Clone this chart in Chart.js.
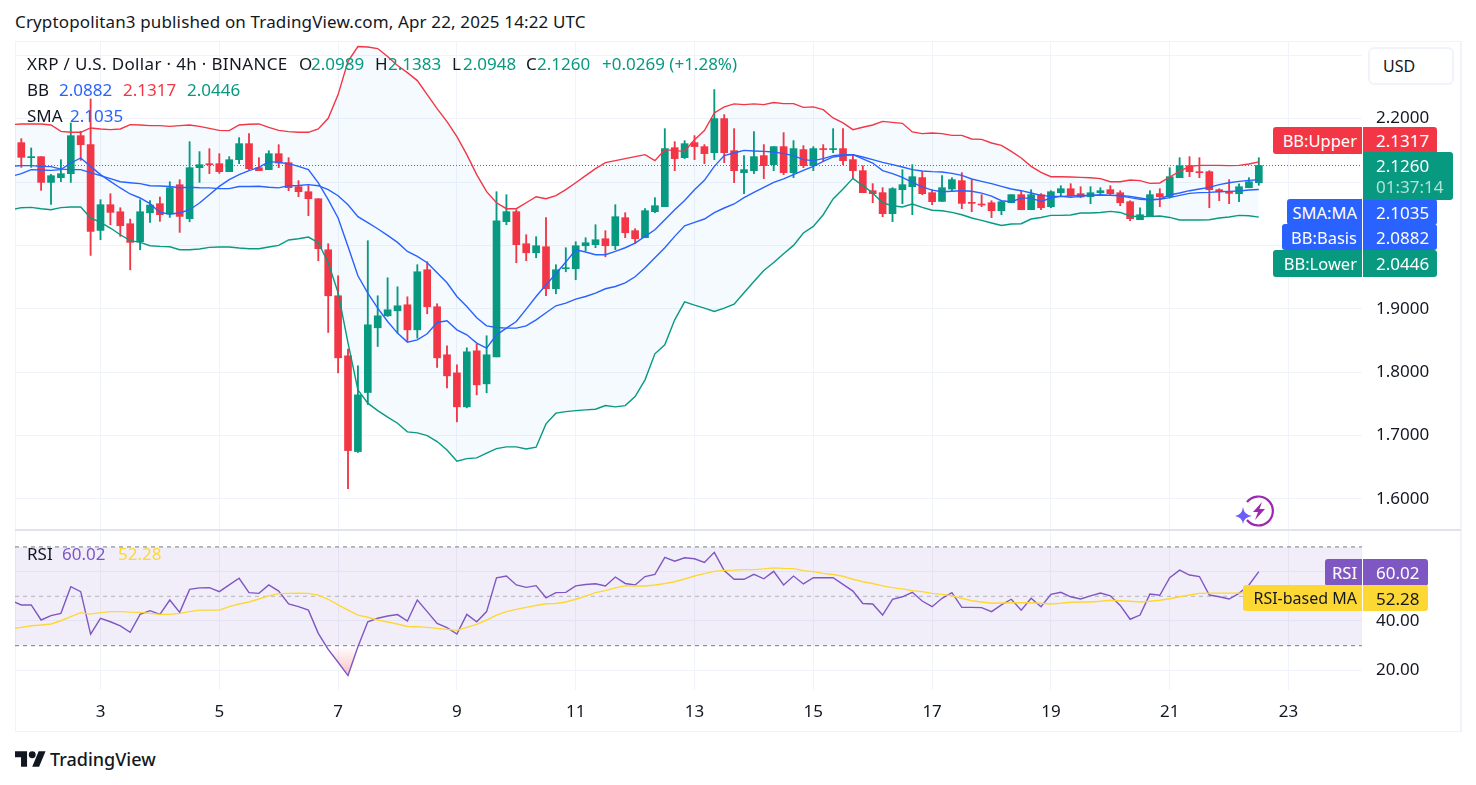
<!DOCTYPE html>
<html>
<head>
<meta charset="utf-8">
<title>XRP / U.S. Dollar</title>
<script src="https://cdn.jsdelivr.net/npm/chart.js@4"></script>
<style>
  html, body { margin: 0; padding: 0; background: #fff; }
  body { width: 1476px; height: 785px; position: relative; overflow: hidden; font-family: "Noto Sans", sans-serif; color: #131722; }
  canvas { position: absolute; }
  .frame { position: absolute; left: 15px; top: 41px; width: 1444px; height: 689px; border: 2px solid #f0f3fa; border-width: 1px 2px 1px 1px; }
  .sep { position: absolute; left: 15px; top: 529px; width: 1446px; height: 2px; background: #e0e3eb; }
  .t { position: absolute; white-space: nowrap; font-size: 17px; line-height: 20px; z-index: 3; }
  .tag { position: absolute; z-index: 4; color: #fff; font-size: 17px; white-space: nowrap; display: flex; align-items: center; box-sizing: border-box; }
  .name { justify-content: flex-end; padding-right: 5px; border-radius: 3px 0 0 3px; font-size: 16.5px; }
  .val { justify-content: flex-start; padding-left: 13px; border-radius: 0 3px 3px 0; }
  .red { background: #f23645; }
  .blue { background: #2962ff; }
  .green { background: #089981; }
  .purple { background: #7e57c2; }
  .yellow { background: #fdd835; color: #131722; }
  .cg { color: #089981; } .cb { color: #2962ff; } .cr { color: #f23645; } .cp { color: #7e57c2; } .cy { color: #fdd835; }
</style>
</head>
<body>
<div class="t" style="left:15px;top:12px;letter-spacing:.14px">Cryptopolitan3 published on TradingView.com, Apr 22, 2025 14:22 UTC</div>

<div class="frame"></div>
<canvas id="priceChart" width="1446" height="489" style="left:15px;top:41px"></canvas>
<canvas id="rsiChart" width="1446" height="200" style="left:15px;top:531px"></canvas>
<div class="sep"></div>

<div class="t" style="left:27px;top:54px;letter-spacing:.34px">XRP / U.S. Dollar · 4h · BINANCE</div>
<div class="t" style="left:299px;top:54px">O</div><div class="t cg" style="left:311px;top:54px">2.0989</div>
<div class="t" style="left:375px;top:54px">H</div><div class="t cg" style="left:388px;top:54px">2.1383</div>
<div class="t" style="left:452px;top:54px">L</div><div class="t cg" style="left:463px;top:54px">2.0948</div>
<div class="t" style="left:526px;top:54px">C</div><div class="t cg" style="left:537px;top:54px">2.1260</div>
<div class="t cg" style="left:602px;top:54px">+0.0269 (+1.28%)</div>

<div class="t" style="left:27px;top:80px">BB</div>
<div class="t cb" style="left:59px;top:80px">2.0882</div>
<div class="t cr" style="left:123px;top:80px">2.1317</div>
<div class="t cg" style="left:187px;top:80px">2.0446</div>

<div class="t" style="left:27px;top:106px">SMA</div>
<div class="t cb" style="left:70px;top:106px">2.1035</div>

<div class="t" style="left:27px;top:544px">RSI</div>
<div class="t cp" style="left:62px;top:544px">60.02</div>
<div class="t cy" style="left:118px;top:544px">52.28</div>

<div style="position:absolute;z-index:4;left:1368px;top:47px;width:86px;height:38px;box-sizing:border-box;border:2px solid #f0f3fa;border-radius:6px;background:#fff;font-size:16px;line-height:34px;padding-left:13px">USD</div>

<div class="tag name red" style="left:1273px;top:127px;width:89px;height:27px">BB:Upper</div>
<div class="tag val red" style="left:1363px;top:127px;width:74px;height:27px">2.1317</div>
<div class="tag name blue" style="left:1287px;top:199px;width:75px;height:26px">SMA:MA</div>
<div class="tag val blue" style="left:1363px;top:199px;width:74px;height:26px">2.1035</div>
<div class="tag name blue" style="left:1282px;top:224px;width:80px;height:26px">BB:Basis</div>
<div class="tag val blue" style="left:1363px;top:224px;width:74px;height:26px">2.0882</div>
<div class="tag name green" style="left:1273px;top:250px;width:89px;height:27px">BB:Lower</div>
<div class="tag val green" style="left:1363px;top:250px;width:74px;height:27px">2.0446</div>
<div class="tag green" style="left:1363px;top:152px;width:90px;height:48px;border-radius:0 3px 3px 0;display:block;padding:3px 0 0 13px;line-height:21px">2.1260<br><span style="color:rgba(255,255,255,.7)">01:37:14</span></div>

<div class="tag name purple" style="left:1325px;top:559px;width:37px;height:27px">RSI</div>
<div class="tag val purple" style="left:1363px;top:559px;width:65px;height:27px">60.02</div>
<div class="tag name yellow" style="left:1243px;top:585px;width:119px;height:26px;font-size:16px">RSI-based MA</div>
<div class="tag val yellow" style="left:1363px;top:585px;width:65px;height:26px">52.28</div>

<svg style="position:absolute;left:1234px;top:494px;z-index:3" width="42" height="34" viewBox="0 0 42 34">
  <path d="M13 8 A14.5 14.5 0 1 1 13 26" fill="none" stroke="#9c27b0" stroke-width="2.2"/>
  <path d="M28 8 L19 18 L24 18 L21 26 L31 15 L25.5 15 Z" fill="#9c27b0"/>
  <path d="M9 13 Q10 21 18 22 Q10 23 9 30 Q8 23 1 22 Q8 21 9 13 Z" fill="#6a5cff"/>
</svg>

<svg style="position:absolute;left:15px;top:750px" width="31" height="18" viewBox="0 4 36 18">
  <path d="M14 22H7V11H0V4h14v18zM28 22h-8l7.5-18h8L28 22z" fill="#131722"/>
  <circle cx="20" cy="8" r="4" fill="#131722"/>
</svg>
<div class="t" style="left:50px;top:749px;font-size:18px;font-weight:500">TradingView</div>

<script>
// April 2025, 4h candles, first one on Apr 1 16:00
const opens = [2.1621,2.1384,2.1400,2.0994,2.1068,2.1131,2.1731,2.1589,2.0236,2.0642,2.0531,2.0342,2.0057,2.0515,2.0658,2.0494,2.0957,2.0421,2.1226,2.1289,2.1289,2.1163,2.1352,2.1605,2.1226,2.1195,2.1447,2.1305,2.0926,2.0847,2.0736,1.9931,1.9205,1.8258,1.6747,1.7679,1.8700,1.8889,1.8968,1.9063,1.8668,1.9616,1.9032,1.8274,1.7989,1.7453,1.8337,1.7816,1.8242,2.0374,2.0532,2.0026,1.9884,1.9979,1.9316,1.9632,1.9632,1.9995,2.0011,2.0105,1.9995,2.0437,2.0232,2.0121,2.0532,2.0611,2.1542,2.1384,2.1621,2.1558,2.1463,2.2000,2.1495,2.1148,2.1179,2.1416,2.1274,2.1558,2.1148,2.1511,2.1258,2.1527,2.1511,2.1527,2.1353,2.1179,2.0863,2.0832,2.0500,2.0879,2.0926,2.1069,2.0832,2.0694,2.0889,2.1021,2.0673,2.0652,2.0673,2.0547,2.0673,2.0800,2.0563,2.0800,2.0610,2.0831,2.0894,2.0816,2.0768,2.0831,2.0879,2.0831,2.0689,2.0405,2.0452,2.0816,2.0768,2.1068,2.1258,2.1163,2.1163,2.0879,2.0847,2.0815,2.0910,2.0989];
const closes = [2.1389,2.1400,2.0994,2.1100,2.1131,2.1731,2.1589,2.0221,2.0642,2.0521,2.0310,2.0047,2.0531,2.0636,2.0484,2.0910,2.0457,2.1226,2.1273,2.1273,2.1163,2.1352,2.1605,2.1210,2.1179,2.1447,2.1300,2.0910,2.0847,2.0736,1.9947,1.9205,1.8226,1.6763,1.7642,1.8747,1.8889,1.8984,1.9047,1.8668,1.9584,1.9032,1.8226,1.7942,1.7453,1.8321,1.7800,1.8274,2.0389,2.0532,2.0011,1.9884,1.9995,1.9316,1.9616,1.9647,1.9995,2.0042,2.0089,1.9995,2.0453,2.0200,2.0105,2.0548,2.0626,2.1527,2.1369,2.1605,2.1558,2.1448,2.2000,2.1463,2.1179,2.1195,2.1400,2.1258,2.1558,2.1148,2.1527,2.1258,2.1527,2.1511,2.1527,2.1337,2.1179,2.0832,2.0816,2.0500,2.0895,2.0958,2.1084,2.0816,2.0690,2.0910,2.1037,2.0663,2.0663,2.0637,2.0547,2.0689,2.0800,2.0563,2.0800,2.0594,2.0847,2.0894,2.0784,2.0763,2.0831,2.0863,2.0816,2.0673,2.0421,2.0484,2.0800,2.0768,2.1084,2.1258,2.1163,2.1147,2.0879,2.0847,2.0821,2.0926,2.1005,2.1260];
const highs = [2.1684,2.1537,2.1400,2.1121,2.1352,2.1931,2.1800,2.2310,2.0721,2.0815,2.0594,2.0415,2.0721,2.0705,2.0763,2.1005,2.1036,2.1636,2.1479,2.1526,2.1447,2.1400,2.1700,2.1763,2.1384,2.1494,2.1589,2.1384,2.1021,2.0942,2.0736,2.0026,1.9521,1.8363,1.8100,2.0074,1.9205,1.9489,1.9347,1.9189,1.9695,1.9742,1.9079,1.8416,1.8116,1.8384,1.8447,1.8574,2.0847,2.0800,2.0563,2.0168,2.0137,2.0437,1.9695,1.9963,2.0058,2.0121,2.0326,2.0232,2.0642,2.0516,2.0263,2.0579,2.0753,2.1842,2.1637,2.1653,2.1732,2.1590,2.2458,2.2063,2.1842,2.1416,2.1795,2.1590,2.1558,2.1779,2.1653,2.1574,2.1558,2.1590,2.1842,2.1842,2.1432,2.1258,2.0974,2.0911,2.0911,2.1195,2.1274,2.1163,2.0879,2.1100,2.1068,2.1147,2.1037,2.0800,2.0705,2.0700,2.0800,2.0863,2.0879,2.0816,2.0863,2.0942,2.0973,2.0926,2.0926,2.0910,2.0942,2.0863,2.0705,2.0594,2.0863,2.0894,2.1226,2.1384,2.1400,2.1384,2.1179,2.0894,2.1037,2.0973,2.1068,2.1383];
const lows = [2.1231,2.1231,2.0868,2.0647,2.1005,2.0994,2.1342,1.9842,2.0089,2.0326,2.0142,1.9615,1.9931,2.0363,2.0379,2.0442,2.0205,2.0373,2.0994,2.1131,2.1136,2.1163,2.1289,2.1195,2.1179,2.1195,2.1226,2.0863,2.0768,2.0468,1.9757,1.8626,1.7989,1.6163,1.6732,1.7489,1.8405,1.8879,1.8616,1.8495,1.8537,1.8921,1.8074,1.7753,1.7216,1.7437,1.7642,1.7674,1.8242,2.0326,1.9726,1.9758,1.9805,1.9205,1.9237,1.9584,1.9458,1.9916,1.9963,1.9821,1.9932,2.0121,2.0026,2.0121,2.0516,2.0611,2.1179,2.1369,2.1353,2.1290,2.1353,2.1305,2.0990,2.0816,2.1132,2.1053,2.1179,2.1116,2.1069,2.1227,2.1179,2.1337,2.1463,2.1274,2.1058,2.0832,2.0674,2.0453,2.0374,2.0658,2.0484,2.0800,2.0642,2.0694,2.0863,2.0579,2.0531,2.0610,2.0437,2.0484,2.0673,2.0563,2.0563,2.0563,2.0594,2.0784,2.0784,2.0752,2.0658,2.0816,2.0800,2.0626,2.0389,2.0405,2.0452,2.0610,2.0747,2.1068,2.1084,2.1068,2.0594,2.0705,2.0658,2.0689,2.0910,2.0948];

// indicator lines start one bar earlier, just left of the pane
const bbUpper = [2.1905,2.1916,2.1916,2.1916,2.1900,2.1799,2.1784,2.1784,2.1853,2.1837,2.1826,2.1837,2.1905,2.1900,2.1889,2.1889,2.1878,2.1889,2.1900,2.1878,2.1847,2.1815,2.1810,2.1900,2.1910,2.1916,2.1863,2.1815,2.1795,2.1784,2.1784,2.1837,2.2005,2.2379,2.2905,2.3137,2.3129,2.3105,2.2979,2.2837,2.2726,2.2600,2.2379,2.2158,2.1953,2.1716,2.1432,2.1116,2.0847,2.0673,2.0579,2.0579,2.0673,2.0768,2.0737,2.0784,2.0879,2.0989,2.1100,2.1210,2.1305,2.1337,2.1368,2.1400,2.1431,2.1337,2.1510,2.1495,2.1484,2.1668,2.1811,2.2090,2.2185,2.2232,2.2221,2.2232,2.2221,2.2253,2.2237,2.2237,2.2178,2.2185,2.2142,2.2011,2.1932,2.1826,2.1863,2.1900,2.1957,2.1941,2.1926,2.1790,2.1763,2.1774,2.1763,2.1736,2.1736,2.1679,2.1673,2.1616,2.1578,2.1484,2.1379,2.1247,2.1152,2.1084,2.1084,2.1079,2.1073,2.1068,2.1053,2.1005,2.1005,2.1032,2.1021,2.0978,2.0985,2.1079,2.1168,2.1247,2.1263,2.1263,2.1263,2.1258,2.1263,2.1285,2.1317];
const bbBasis = [2.1250,2.1258,2.1258,2.1247,2.1242,2.1203,2.1195,2.1195,2.1147,2.1100,2.1053,2.1005,2.0989,2.0974,2.0942,2.0937,2.0929,2.0910,2.0917,2.0910,2.0907,2.0895,2.0895,2.0929,2.0929,2.0933,2.0918,2.0907,2.0942,2.0945,2.0958,2.0942,2.0879,2.0784,2.0642,2.0453,2.0358,2.0263,2.0157,2.0047,1.9905,1.9826,1.9726,1.9568,1.9410,1.9194,1.9036,1.8858,1.8731,1.8705,1.8695,1.8695,1.8731,1.8826,1.8937,1.9047,1.9090,1.9153,1.9194,1.9248,1.9316,1.9352,1.9410,1.9505,1.9647,1.9805,1.9963,2.0142,2.0310,2.0362,2.0416,2.0516,2.0590,2.0653,2.0753,2.0836,2.0915,2.0994,2.1048,2.1116,2.1184,2.1247,2.1326,2.1395,2.1416,2.1431,2.1395,2.1353,2.1310,2.1274,2.1237,2.1195,2.1174,2.1163,2.1158,2.1136,2.1105,2.1048,2.1010,2.0974,2.0931,2.0890,2.0863,2.0827,2.0789,2.0773,2.0773,2.0779,2.0789,2.0789,2.0789,2.0789,2.0784,2.0753,2.0726,2.0721,2.0726,2.0753,2.0789,2.0820,2.0832,2.0836,2.0847,2.0852,2.0858,2.0874,2.0882];
const bbLower = [2.0563,2.0595,2.0599,2.0579,2.0563,2.0595,2.0606,2.0606,2.0432,2.0362,2.0274,2.0168,2.0074,2.0047,1.9995,1.9984,1.9979,1.9932,1.9932,1.9943,1.9968,1.9974,1.9974,1.9958,1.9947,1.9947,1.9974,2.0000,2.0085,2.0105,2.0132,2.0042,1.9726,1.9253,1.8463,1.7721,1.7511,1.7394,1.7290,1.7195,1.7058,1.7042,1.7000,1.6905,1.6773,1.6595,1.6636,1.6647,1.6721,1.6794,1.6821,1.6821,1.6789,1.6816,1.7184,1.7353,1.7378,1.7394,1.7405,1.7416,1.7473,1.7452,1.7473,1.7615,1.7879,1.8289,1.8431,1.8826,1.9110,1.9058,1.9011,1.8957,1.9011,1.9074,1.9252,1.9431,1.9605,1.9731,1.9868,2.0000,2.0195,2.0299,2.0484,2.0732,2.0890,2.1057,2.0942,2.0827,2.0669,2.0626,2.0606,2.0653,2.0599,2.0555,2.0547,2.0520,2.0484,2.0432,2.0394,2.0353,2.0315,2.0337,2.0342,2.0416,2.0441,2.0473,2.0473,2.0479,2.0511,2.0511,2.0520,2.0536,2.0520,2.0464,2.0453,2.0457,2.0464,2.0441,2.0400,2.0400,2.0400,2.0405,2.0432,2.0448,2.0473,2.0468,2.0446];
const smaValues = [2.1089,2.1132,2.1195,2.1190,2.1184,2.1195,2.1300,2.1379,2.1247,2.1116,2.1010,2.0906,2.0811,2.0748,2.0658,2.0520,2.0495,2.0511,2.0563,2.0669,2.0800,2.0931,2.1037,2.1116,2.1179,2.1231,2.1321,2.1310,2.1289,2.1247,2.1195,2.0985,2.0721,2.0432,1.9984,1.9521,1.9248,1.9011,1.8799,1.8616,1.8474,1.8510,1.8605,1.8784,1.8810,1.8668,1.8589,1.8458,1.8379,1.8589,1.8695,1.8799,1.8995,1.9194,1.9379,1.9552,1.9737,1.9932,1.9895,1.9853,1.9853,1.9905,1.9963,2.0037,2.0141,2.0247,2.0405,2.0563,2.0710,2.0879,2.1026,2.1247,2.1416,2.1458,2.1499,2.1490,2.1484,2.1474,2.1447,2.1416,2.1353,2.1337,2.1368,2.1416,2.1431,2.1431,2.1364,2.1300,2.1179,2.1132,2.1073,2.0994,2.0922,2.0871,2.0847,2.0855,2.0863,2.0855,2.0824,2.0776,2.0705,2.0689,2.0745,2.0745,2.0694,2.0748,2.0773,2.0757,2.0773,2.0789,2.0800,2.0789,2.0789,2.0773,2.0748,2.0721,2.0732,2.0795,2.0827,2.0863,2.0890,2.0915,2.0958,2.0989,2.1010,2.1026,2.1035];
const lastClose = [2.126, 2.126];

const rsiValues = [48.2,46.5,46.5,40.4,42.2,43.1,53.9,51.9,34.7,41.1,39.7,38.0,35.4,42.7,44.2,42.7,48.5,43.5,52.8,53.4,53.5,51.9,54.6,57.3,51.5,51.2,54.6,52.1,46.9,45.8,44.4,35.0,28.5,23.3,17.9,29.6,39.7,41.1,42.0,42.6,40.0,48.5,43.8,39.0,37.3,34.7,42.7,39.7,43.8,57.5,58.2,54.6,53.6,54.3,49.4,51.5,51.6,54.2,54.8,55.1,54.2,57.8,55.2,54.6,58.0,58.9,65.8,64.2,65.6,65.2,63.7,67.8,60.4,56.9,56.9,58.9,57.1,60.1,54.6,58.2,55.0,57.5,57.5,57.5,54.8,52.1,47.1,46.9,42.4,48.8,49.8,51.6,48.1,45.8,49.2,51.5,45.5,45.5,45.4,43.8,46.5,48.8,44.4,49.2,45.8,50.8,51.6,49.8,48.9,50.2,51.3,50.2,46.3,40.7,42.4,50.9,50.4,57.5,60.6,58.6,58.0,50.5,49.8,48.9,51.2,54.6,60.02];
const rsiMaValues = [36.9,37.4,38.1,38.4,38.8,40.1,41.8,43.4,42.8,43.4,43.8,43.8,43.6,43.5,43.1,42.7,42.7,43.1,43.8,44.4,44.4,44.4,45.8,46.9,47.7,48.9,50.2,51.1,51.2,51.3,51.2,50.5,48.8,46.5,44.4,42.4,41.5,40.4,39.6,38.8,37.8,37.7,37.4,37.0,36.6,36.2,37.4,38.6,40.4,42.4,43.8,44.7,45.5,46.3,47.0,47.1,47.7,48.8,50.1,51.5,52.3,53.4,54.3,54.2,54.2,54.6,55.2,55.9,57.0,58.2,59.2,60.1,60.5,60.6,60.8,60.8,61.1,61.5,61.3,61.2,60.4,60.0,59.3,58.8,58.1,56.9,55.9,55.2,54.2,53.5,53.0,52.3,51.9,51.2,50.8,50.2,49.2,48.2,47.7,47.2,47.3,47.4,47.4,47.4,47.2,46.9,47.2,47.6,47.7,47.7,48.0,48.4,48.2,48.0,47.7,48.0,48.4,49.0,49.8,50.5,51.2,51.3,51.3,51.3,51.3,51.5,52.28];
const rsiUpperBand = [70, 70];
const rsiMiddleBand = [50, 50];
const rsiLowerBand = [30, 30];

const dayTicks = [3, 5, 7, 9, 11, 13, 15, 17, 19, 21, 23];
const priceTicks = [1.6, 1.7, 1.8, 1.9, 2.0, 2.1, 2.2, 2.3];
const priceTicksShown = [1.6, 1.7, 1.8, 1.9, 2.2];
const rsiTicks = [20, 40, 60];
const rsiTicksShown = [20, 40];

const green = "#089981";
const red = "#f23645";
const blue = "#2962ff";
const fontName = '"Noto Sans", sans-serif';

const xMin = 1.5606;
const xMax = 24.237;

function candleDay(i) {
  return 3 + (i - 8) / 6;
}

function linePoints(values) {
  return values.map((v, i) => ({ x: candleDay(i - 1), y: v }));
}

function edgePoints(values) {
  return [
    { x: xMin, y: values[0] },
    { x: xMax, y: values[1] },
  ];
}

const candleColors = opens.map((o, i) => (closes[i] >= o ? green : red));

function lineSet(values, color, extra) {
  return Object.assign(
    {
      type: "line",
      data: linePoints(values),
      borderColor: color,
      borderWidth: 1.4,
      pointRadius: 0,
      tension: 0,
      fill: false,
      order: 1,
    },
    extra
  );
}

function xAxis(showLabels) {
  return {
    type: "linear",
    min: xMin,
    max: xMax,
    offset: false,
    afterBuildTicks: (axis) => {
      axis.ticks = dayTicks.map((d) => ({ value: d }));
    },
    afterFit: (axis) => {
      axis.height = showLabels ? 41 : 0;
      axis.paddingLeft = 0;
      axis.paddingRight = 0;
    },
    grid: { color: "#f0f3fa", offset: false, drawTicks: false },
    border: { display: false },
    ticks: {
      display: showLabels,
      padding: 12,
      autoSkip: false,
      maxRotation: 0,
      color: "#131722",
      font: { family: fontName, size: 17 },
      callback: (v) => String(v),
    },
  };
}

function yAxis(min, max, tickValues, shown, digits) {
  return {
    position: "right",
    min: min,
    max: max,
    afterBuildTicks: (axis) => {
      axis.ticks = tickValues.map((v) => ({ value: v }));
    },
    afterFit: (axis) => {
      axis.width = 99;
      // the default padding would shrink the pane by the label height
      axis.paddingTop = 0;
      axis.paddingBottom = 0;
    },
    grid: { color: "#f0f3fa", drawTicks: false },
    border: { display: false },
    ticks: {
      padding: 14,
      crossAlign: "near",
      autoSkip: false,
      color: "#131722",
      font: { family: fontName, size: 17 },
      callback: (v) => (shown.includes(v) ? v.toFixed(digits) : ""),
    },
  };
}

const baseOptions = {
  responsive: false,
  animation: false,
  layout: { padding: 0 },
  events: [],
};

new Chart(document.getElementById("priceChart"), {
  type: "bar",
  data: {
    datasets: [
      lineSet(bbUpper, red, {
        fill: { target: 2 },
        backgroundColor: "rgba(33,150,243,0.05)",
      }),
      lineSet(bbBasis, blue),
      lineSet(bbLower, green),
      lineSet(smaValues, blue),
      {
        type: "line",
        data: edgePoints(lastClose),
        borderColor: green,
        borderWidth: 1,
        borderDash: [1, 2],
        pointRadius: 0,
        order: 2,
      },
      {
        type: "bar",
        data: highs.map((h, i) => ({ x: candleDay(i), y: [lows[i], h] })),
        backgroundColor: candleColors,
        barThickness: 1.2,
        grouped: false,
        order: 4,
      },
      {
        type: "bar",
        data: opens.map((o, i) => ({ x: candleDay(i), y: [o, closes[i]] })),
        backgroundColor: candleColors,
        barThickness: 7,
        minBarLength: 1,
        grouped: false,
        order: 3,
      },
    ],
  },
  options: Object.assign({}, baseOptions, {
    scales: {
      x: xAxis(false),
      // top value picked so the dotted last-price line lands on a whole pixel
      y: yAxis(1.551, 2.32245, priceTicks, priceTicksShown, 4),
    },
    plugins: {
      legend: { display: false },
      tooltip: { enabled: false },
      filler: { drawTime: "beforeDatasetsDraw" },
    },
  }),
});

const rsiCanvas = document.getElementById("rsiChart");
const oversoldFill = rsiCanvas.getContext("2d").createLinearGradient(0, 115, 0, 145);
oversoldFill.addColorStop(0, "rgba(242,54,69,0)");
oversoldFill.addColorStop(1, "rgba(242,54,69,0.32)");

new Chart(rsiCanvas, {
  type: "line",
  data: {
    datasets: [
      {
        data: edgePoints(rsiUpperBand),
        borderColor: "#787b86",
        borderWidth: 1,
        borderDash: [4, 4],
        pointRadius: 0,
        fill: { target: 2 },
        backgroundColor: "rgba(126,87,194,0.1)",
        order: 5,
      },
      {
        data: edgePoints(rsiMiddleBand),
        borderColor: "rgba(120,123,134,0.5)",
        borderWidth: 1,
        borderDash: [4, 4],
        pointRadius: 0,
        order: 5,
      },
      {
        data: edgePoints(rsiLowerBand),
        borderColor: "#787b86",
        borderWidth: 1,
        borderDash: [4, 4],
        pointRadius: 0,
        order: 5,
      },
      lineSet(rsiMaValues, "#fdd835"),
      lineSet(rsiValues, "#7e57c2", {
        fill: { target: { value: 30 }, above: "rgba(0,0,0,0)", below: oversoldFill },
      }),
    ],
  },
  options: Object.assign({}, baseOptions, {
    scales: {
      x: xAxis(true),
      y: yAxis(12.06, 76.44, rsiTicks, rsiTicksShown, 2),
    },
    plugins: {
      legend: { display: false },
      tooltip: { enabled: false },
      filler: { drawTime: "beforeDatasetsDraw" },
    },
  }),
});
</script>
</body>
</html>
